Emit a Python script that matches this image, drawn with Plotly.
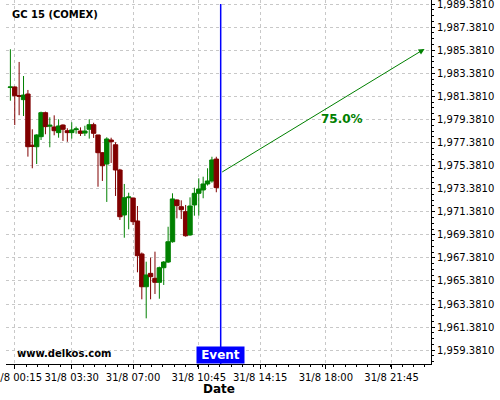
import plotly.graph_objects as go

# 15-minute candles on 31/8 (00:00 .. 11:45)
times = [
    "2023-08-31 00:00", "2023-08-31 00:15", "2023-08-31 00:30", "2023-08-31 00:45",
    "2023-08-31 01:00", "2023-08-31 01:15", "2023-08-31 01:30", "2023-08-31 01:45",
    "2023-08-31 02:00", "2023-08-31 02:15", "2023-08-31 02:30", "2023-08-31 02:45",
    "2023-08-31 03:00", "2023-08-31 03:15", "2023-08-31 03:30", "2023-08-31 03:45",
    "2023-08-31 04:00", "2023-08-31 04:15", "2023-08-31 04:30", "2023-08-31 04:45",
    "2023-08-31 05:00", "2023-08-31 05:15", "2023-08-31 05:30", "2023-08-31 05:45",
    "2023-08-31 06:00", "2023-08-31 06:15", "2023-08-31 06:30", "2023-08-31 06:45",
    "2023-08-31 07:00", "2023-08-31 07:15", "2023-08-31 07:30", "2023-08-31 07:45",
    "2023-08-31 08:00", "2023-08-31 08:15", "2023-08-31 08:30", "2023-08-31 08:45",
    "2023-08-31 09:00", "2023-08-31 09:15", "2023-08-31 09:30", "2023-08-31 09:45",
    "2023-08-31 10:00", "2023-08-31 10:15", "2023-08-31 10:30", "2023-08-31 10:45",
    "2023-08-31 11:00", "2023-08-31 11:15", "2023-08-31 11:30", "2023-08-31 11:45",
]

opens = [
    1982.15, 1982.20, 1981.45, 1981.10, 1981.59, 1977.15, 1977.02, 1977.89,
    1979.97, 1978.80, 1978.73, 1978.24, 1978.90, 1978.41, 1978.24, 1978.50,
    1978.38, 1978.20, 1978.53, 1978.93, 1978.04, 1976.50, 1975.52, 1977.60,
    1977.19, 1975.00, 1971.10, 1972.60, 1972.57, 1970.58, 1967.72, 1964.88,
    1966.04, 1965.61, 1965.26, 1966.53, 1967.02, 1968.78, 1972.40, 1971.82,
    1971.39, 1969.37, 1971.97, 1972.98, 1973.27, 1973.79, 1974.05, 1975.95,
]
highs = [
    1985.47, 1982.25, 1984.37, 1983.15, 1981.94, 1978.53, 1978.10, 1980.06,
    1980.06, 1979.57, 1979.74, 1979.40, 1978.95, 1978.62, 1979.14, 1978.76,
    1978.70, 1978.84, 1979.40, 1979.10, 1978.04, 1976.55, 1977.84, 1977.80,
    1977.40, 1975.10, 1973.79, 1973.03, 1972.60, 1971.88, 1967.85, 1967.05,
    1967.40, 1967.92, 1966.62, 1967.10, 1970.08, 1972.98, 1972.45, 1972.37,
    1971.97, 1972.63, 1973.47, 1974.28, 1974.42, 1975.15, 1976.15, 1976.15,
]
lows = [
    1981.01, 1978.90, 1979.75, 1979.68, 1976.16, 1975.15, 1975.52, 1977.60,
    1978.10, 1976.97, 1978.01, 1977.80, 1977.52, 1977.45, 1977.72, 1978.15,
    1977.95, 1977.95, 1977.72, 1977.78, 1973.55, 1974.05, 1972.23, 1975.61,
    1972.75, 1970.67, 1969.13, 1969.86, 1970.23, 1966.13, 1963.79, 1962.14,
    1963.79, 1964.25, 1963.84, 1965.03, 1966.94, 1968.70, 1970.81, 1970.75,
    1969.22, 1969.30, 1971.04, 1971.04, 1972.55, 1973.65, 1973.90, 1973.07,
]
closes = [
    1982.20, 1981.44, 1981.40, 1981.50, 1977.02, 1977.05, 1978.04, 1979.97,
    1978.76, 1978.88, 1978.41, 1978.82, 1978.53, 1978.24, 1978.47, 1978.56,
    1978.18, 1978.38, 1978.93, 1978.18, 1976.50, 1975.37, 1977.69, 1977.45,
    1975.00, 1970.95, 1972.60, 1972.66, 1970.52, 1967.57, 1964.88, 1965.90,
    1965.75, 1965.26, 1966.53, 1967.02, 1968.78, 1972.49, 1971.91, 1971.56,
    1969.30, 1971.88, 1972.98, 1973.35, 1973.79, 1974.05, 1975.87, 1973.47,
]

# axis ticks
x_tickvals = ["2023-08-31 00:15", "2023-08-31 03:30", "2023-08-31 07:00",
              "2023-08-31 10:45", "2023-08-31 14:15", "2023-08-31 18:00",
              "2023-08-31 21:45"]
x_ticktext = ["31/8 00:15", "31/8 03:30", "31/8 07:00", "31/8 10:45",
              "31/8 14:15", "31/8 18:00", "31/8 21:45"]
y_tickvals = [1959.381, 1961.381, 1963.381, 1965.381, 1967.381, 1969.381,
              1971.381, 1973.381, 1975.381, 1977.381, 1979.381, 1981.381,
              1983.381, 1985.381, 1987.381, 1989.381]

x_range = ["2023-08-30 23:45", "2023-09-01 00:00"]
y_range = [1958.18, 1989.74]

event_time = "2023-08-31 12:00"
arrow_start = ("2023-08-31 12:00", 1974.75)
arrow_end = ("2023-08-31 23:38", 1985.50)
prob_label = ("2023-08-31 18:55", 1979.38, "75.0%")

GREEN = "#008000"
RED = "#800000"
GRID = "#c8c8c8"

fig = go.Figure()
fig.add_trace(go.Candlestick(
    x=times, open=opens, high=highs, low=lows, close=closes,
    increasing=dict(line=dict(color=GREEN, width=1), fillcolor=GREEN),
    decreasing=dict(line=dict(color=RED, width=1), fillcolor=RED),
    whiskerwidth=0, showlegend=False, hoverinfo="skip",
))

fig.update_layout(
    width=500, height=400,
    margin=dict(l=6, r=69, t=0, b=36, autoexpand=False),
    paper_bgcolor="white", plot_bgcolor="white",
    font=dict(family="DejaVu Sans", size=10, color="black"),
    boxgap=0.0, boxgroupgap=0.0,
    showlegend=False,
)

fig.update_xaxes(
    type="date", range=x_range,
    rangeslider=dict(visible=False),
    tickmode="array", tickvals=x_tickvals, ticktext=x_ticktext,
    ticklabeloverflow="allow", automargin=False,
    tickfont=dict(family="DejaVu Sans", size=10, color="black"),
    showgrid=True, gridcolor=GRID, griddash="3px,3px", gridwidth=1,
    showline=True, linecolor="black", linewidth=1,
    ticks="outside", ticklen=4, tickcolor="black",
    minor=dict(ticks="outside", ticklen=2, tickcolor="black",
               tick0="2023-08-31 00:15", dtick=39 * 60 * 1000, showgrid=False),
    zeroline=False,
)

fig.update_yaxes(
    side="right", range=y_range, automargin=False,
    ticklabeloverflow="allow",
    tickmode="array", tickvals=y_tickvals, tickformat=",.4f",
    tickfont=dict(family="DejaVu Sans", size=10, color="black"),
    showgrid=True, gridcolor=GRID, griddash="3px,3px", gridwidth=1,
    showline=True, linecolor="black", linewidth=1,
    ticks="outside", ticklen=3, tickcolor="black",
    minor=dict(ticks="outside", ticklen=2, tickcolor="black",
               tick0=1959.381, dtick=0.5, showgrid=False),
    zeroline=False,
)

# event line
fig.add_shape(type="line", xref="x", yref="paper",
              x0=event_time, x1=event_time, y0=0, y1=0.989,
              line=dict(color="#0000ff", width=1.5))

# arrow
fig.add_annotation(
    x=arrow_end[0], y=arrow_end[1], ax=arrow_start[0], ay=arrow_start[1],
    xref="x", yref="y", axref="x", ayref="y",
    text="", showarrow=True, arrowhead=2, arrowsize=1.2, arrowwidth=1,
    arrowcolor=GREEN,
)
fig.add_annotation(
    x=prob_label[0], y=prob_label[1], xref="x", yref="y",
    text="<b>%s</b>" % prob_label[2], showarrow=False,
    font=dict(family="DejaVu Sans", size=12, color=GREEN),
)

# event label
fig.add_annotation(
    x=event_time, y=0, xref="x", yref="paper", yanchor="bottom",
    text="<b>Event</b>", showarrow=False, bgcolor="#0000ff",
    font=dict(family="DejaVu Sans", size=12, color="white"),
    borderpad=1, width=45,
)

# title / watermark / axis title
fig.add_annotation(
    x=0.0094, y=0.9588, xref="paper", yref="paper", xanchor="left", yanchor="middle",
    text="<b>GC 15 (COMEX)</b>", showarrow=False,
    font=dict(family="DejaVu Sans", size=10, color="black"),
)
fig.add_annotation(
    x=0.021, y=0.0275, xref="paper", yref="paper", xanchor="left", yanchor="middle",
    text="<b>www.delkos.com</b>", showarrow=False,
    font=dict(family="DejaVu Sans", size=10, color="black"),
)
fig.add_annotation(
    x=0.5, y=-0.0687, xref="paper", yref="paper", xanchor="center", yanchor="middle",
    text="<b>Date</b>", showarrow=False,
    font=dict(family="DejaVu Sans", size=12, color="black"),
)

fig.write_html(
    "out.html",
    config={"displayModeBar": False},
    post_script="document.body.style.margin='0';document.body.style.overflow='hidden';",
)
